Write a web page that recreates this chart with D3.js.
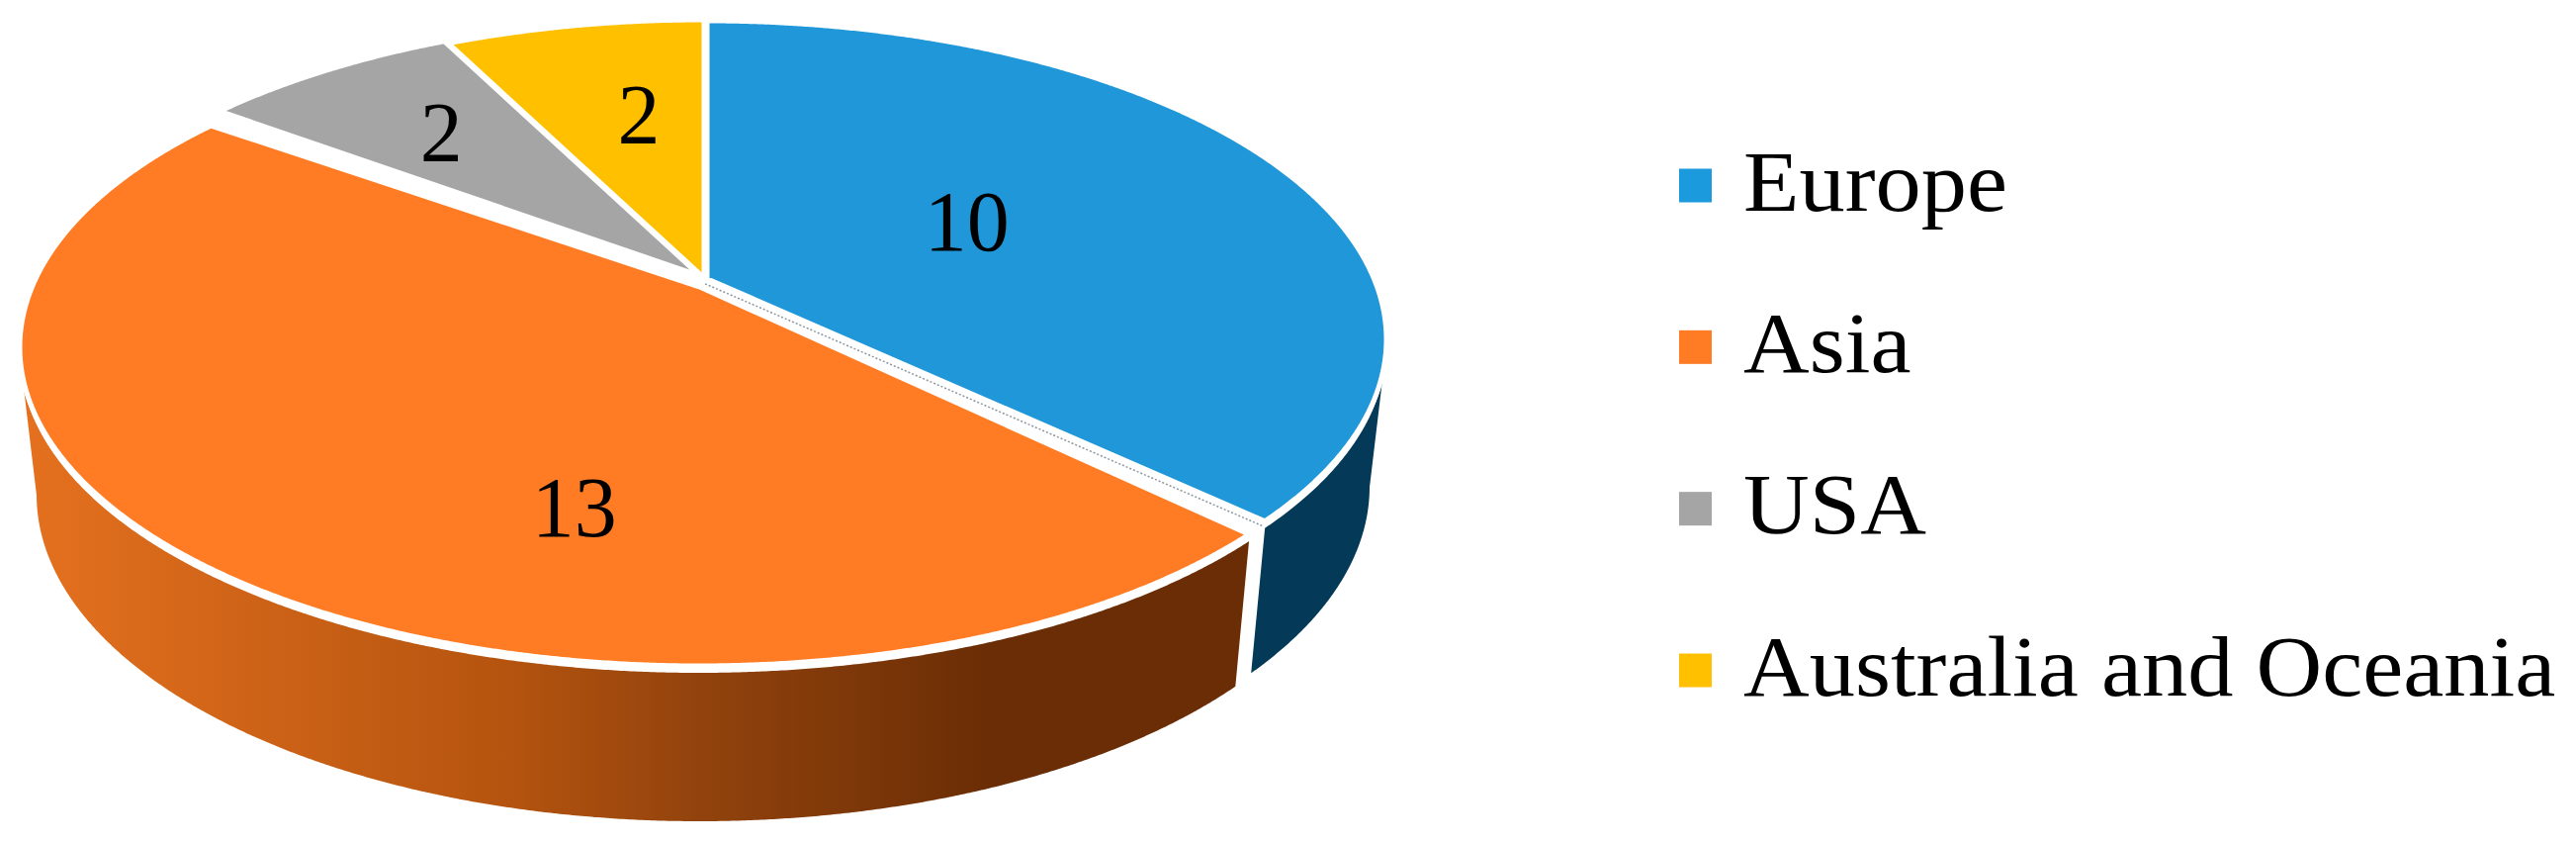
<!DOCTYPE html>
<html>
<head>
<meta charset="utf-8">
<script src="https://d3js.org/d3.v7.min.js"></script>
<style>
  html, body { margin: 0; padding: 0; background: #fff; }
  svg { display: block; }
  text { font-family: "Liberation Serif", serif; fill: #000; }
</style>
</head>
<body>
<svg width="2605" height="852"></svg>
<script>
// data
let regions = ["Europe", "Asia", "USA", "Australia and Oceania"];
let counts = [10, 13, 2, 2];
let topColors = ["#2097D8", "#FF7C24", "#A5A5A5", "#FFC000"];
let legendColors = ["#1B9BDD", "#FF7C24", "#A5A5A5", "#FFC000"];

let svg = d3.select("svg");

// top face and bottom rim of the disc, both ellipses in screen space
let topFace = {cx: 712, cy: 344, rx: 687, ry: 322};
let bottomRim = {cx: 712, cy: 493, rx: 670, ry: 330};
let tilt = 0.19;                    // how far the pie centre sits above the ellipse centre
let wallDrop = 7;                   // white band between top face and wall
let nudge = [[3, -1], [-5, 7], [-4, -4], [0, -2]];   // Asia is pulled out a little
let trim = [0, 0.018, 0, 0];        // Asia is also a bit narrower, wider gaps either side
let labelAt = [[0.387, -0.373], [-0.191, 0.525], [-0.387, -0.652], [-0.096, -0.708]];

// perspective: unit circle -> unit disc with the centre pushed upward
function project(angle, r) {
  let u = r * Math.sin(angle), v = -r * Math.cos(angle);
  let w = 1 - tilt * v;
  return [u * Math.sqrt(1 - tilt * tilt) / w, (v - tilt) / w];
}
function onEllipse(p, e, off) {
  return [e.cx + off[0] + e.rx * p[0], e.cy + off[1] + e.ry * p[1]];
}

let slices = d3.pie().sort(null).value(function(d) { return d; })(counts);
let line = d3.line();

function sweep(d, i) {
  let a0 = d.startAngle + trim[i], a1 = d.endAngle - trim[i];
  let steps = Math.ceil((a1 - a0) / 0.004);
  return d3.range(steps + 1).map(function(k) {
    return a0 + (a1 - a0) * k / steps;
  });
}

// side wall shading
let defs = svg.append("defs");
let lg = defs.append("linearGradient")
    .attr("id", "asiaWall")
    .attr("gradientUnits", "userSpaceOnUse")
    .attr("x1", 20).attr("x2", 1000).attr("y1", 0).attr("y2", 0);
lg.append("stop").attr("offset", "0%").attr("stop-color", "#E5711F");
lg.append("stop").attr("offset", "50%").attr("stop-color", "#B5540F");
lg.append("stop").attr("offset", "70%").attr("stop-color", "#92430D");
lg.append("stop").attr("offset", "100%").attr("stop-color", "#6B2D05");
let wallFill = ["#043A57", "url(#asiaWall)", "none", "none"];

// walls go first, the top face covers their upper edge
svg.append("g").selectAll("path")
    .data(slices)
    .enter().append("path")
    .attr("d", function(d, i) {
      let front = sweep(d, i).map(function(a) { return project(a, 1); })
          .filter(function(p) { return p[1] >= 0; });
      if (front.length < 2) return null;
      let drop = [nudge[i][0], nudge[i][1] + wallDrop];
      let upper = front.map(function(p) { return onEllipse(p, topFace, drop); });
      let lower = front.map(function(p) { return onEllipse(p, bottomRim, nudge[i]); }).reverse();
      return line(upper.concat(lower)) + "Z";
    })
    .attr("fill", function(d, i) { return wallFill[i]; });

// top face
svg.append("g").selectAll("path")
    .data(slices)
    .enter().append("path")
    .attr("d", function(d, i) {
      let rim = sweep(d, i).map(function(a) { return onEllipse(project(a, 1), topFace, nudge[i]); });
      let hub = onEllipse(project(0, 0), topFace, nudge[i]);
      return line([hub].concat(rim)) + "Z";
    })
    .attr("fill", function(d, i) { return topColors[i]; })
    .attr("stroke", "#fff")
    .attr("stroke-width", 5)
    .attr("stroke-linejoin", "miter");

// the faint dotted seam in the gap under Europe
let seam = slices[0];
svg.append("path")
    .attr("d", line([project(0, 0), project(seam.endAngle, 1)].map(function(p) {
      return onEllipse(p, topFace, [nudge[0][0] - 2, nudge[0][1] + 5]);
    })))
    .attr("fill", "none")
    .attr("stroke", "#8b97a0")
    .attr("stroke-width", 1.5)
    .attr("stroke-dasharray", "2 2");

// value labels
svg.append("g").selectAll("text")
    .data(slices)
    .enter().append("text")
    .attr("transform", function(d, i) {
      let p = onEllipse(labelAt[i], topFace, [0, 0]);
      return "translate(" + p[0] + "," + (p[1] + 29) + ")";
    })
    .attr("text-anchor", "middle")
    .attr("font-size", 86)
    .text(function(d) { return d.value; });

// legend
let legendY = d3.scalePoint().domain(regions).range([187.5, 677.5]);
let entry = svg.append("g").selectAll("g")
    .data(regions)
    .enter().append("g")
    .attr("transform", function(d) { return "translate(1698," + legendY(d) + ")"; });
entry.append("rect")
    .attr("y", -17)
    .attr("width", 33)
    .attr("height", 34)
    .attr("fill", function(d, i) { return legendColors[i]; });
entry.append("text")
    .attr("transform", "translate(65,25) scale(1.075,1)")
    .attr("font-size", 86)
    .text(function(d) { return d; });
</script>
</body>
</html>
